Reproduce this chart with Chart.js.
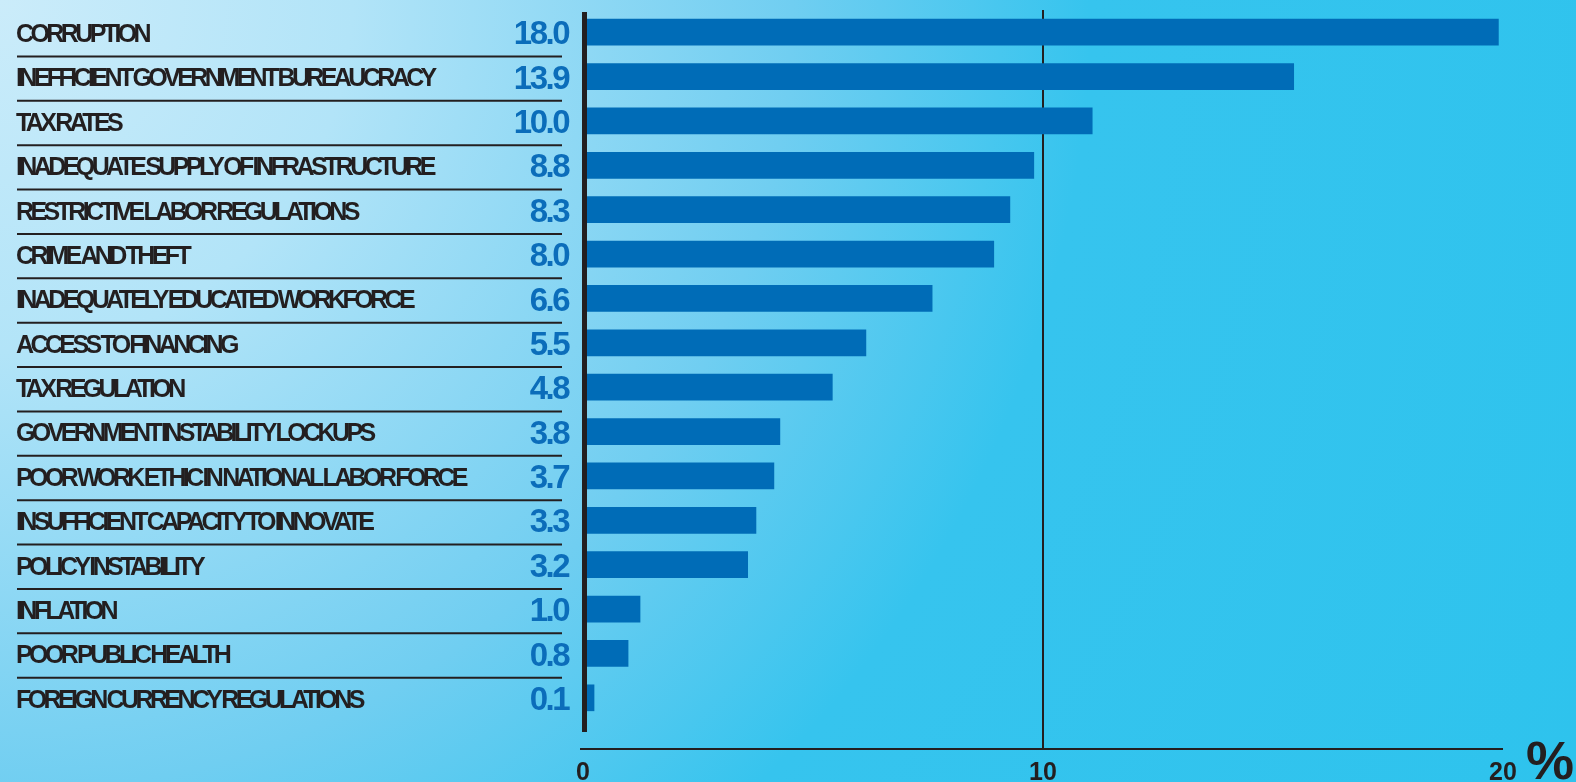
<!DOCTYPE html>
<html lang="en">
<head>
    <meta charset="UTF-8">
    <title>Most Problematic Factors</title>
    <style>
        body {
            margin: 0;
            padding: 0;
            width: 1576px;
            height: 782px;
            overflow: hidden;
            background: radial-gradient(circle farthest-corner at 0 0, #cbecfa 0%, #b2e4f8 20%, #70cef1 45%, #36c4ee 62%, #2ec3ed 100%);
        }
        .container {
            position: relative;
            width: 1576px;
            height: 782px;
        }
    </style>
    <script src="https://cdn.jsdelivr.net/npm/chart.js"></script>
</head>
<body>
    <div class="container">
        <canvas id="barGraph"></canvas>
    </div>

    <script>
        // Categories, the printed values and the bar lengths
        const categories = [
            'CORRUPTION',
            'INEFFICIENT GOVERNMENT BUREAUCRACY',
            'TAX RATES',
            'INADEQUATE SUPPLY OF INFRASTRUCTURE',
            'RESTRICTIVE LABOR REGULATIONS',
            'CRIME AND THEFT',
            'INADEQUATELY EDUCATED WORKFORCE',
            'ACCESS TO FINANCING',
            'TAX REGULATION',
            'GOVERNMENT INSTABILITY LOCKUPS',
            'POOR WORK ETHIC IN NATIONAL LABOR FORCE',
            'INSUFFICIENT CAPACITY TO INNOVATE',
            'POLICY INSTABILITY',
            'INFLATION',
            'POOR PUBLIC HEALTH',
            'FOREIGN CURRENCY REGULATIONS'
        ];
        const shownValues = ['18.0', '13.9', '10.0', '8.8', '8.3', '8.0', '6.6', '5.5', '4.8', '3.8', '3.7', '3.3', '3.2', '1.0', '0.8', '0.1'];
        const barLengths = [19.9, 15.45, 11.07, 9.8, 9.28, 8.93, 7.59, 6.15, 5.42, 4.28, 4.15, 3.76, 3.58, 1.24, 0.98, 0.24];
        const xTicks = [0, 10, 20];

        const ink = '#231f20';
        const blue = '#006cb7';
        const fontStack = 'Arial, "Liberation Sans", sans-serif';

        // Left-hand labels, separators, value column and the axis lines
        const decor = {
            id: 'decor',
            afterDatasetsDraw(chart) {
                const { ctx, scales: { x, y } } = chart;
                const x0 = x.getPixelForValue(0);
                const x20 = x.getPixelForValue(20);
                ctx.save();

                ctx.strokeStyle = ink;
                ctx.lineWidth = 2;
                for (let i = 0; i < categories.length - 1; i++) {
                    const yy = (y.getPixelForValue(i) + y.getPixelForValue(i + 1)) / 2 + 2;
                    ctx.beginPath();
                    ctx.moveTo(17, yy);
                    ctx.lineTo(562, yy);
                    ctx.stroke();
                }

                ctx.fillStyle = ink;
                ctx.font = 'bold 25px ' + fontStack;
                ctx.letterSpacing = '-3.6px';
                ctx.wordSpacing = '-1.5px';
                ctx.textAlign = 'left';
                ctx.textBaseline = 'middle';
                categories.forEach((c, i) => ctx.fillText(c, 16, y.getPixelForValue(i) + 3));
                ctx.wordSpacing = '0px';

                ctx.fillStyle = '#0b6dba';
                ctx.font = 'bold 33px ' + fontStack;
                ctx.letterSpacing = '-2.5px';
                ctx.textAlign = 'right';
                shownValues.forEach((v, i) => ctx.fillText(v, 568, y.getPixelForValue(i) + 3));

                ctx.letterSpacing = '0px';
                ctx.fillStyle = ink;
                ctx.fillRect(x0 - 1, 12, 5, 720);
                ctx.fillRect(x0 - 3, 748, x20 - x0 + 3, 2);

                ctx.font = 'bold 54px ' + fontStack;
                ctx.textAlign = 'center';
                ctx.textBaseline = 'alphabetic';
                ctx.fillText('%', 1550, 779);
                ctx.restore();
            }
        };

        const config = {
            type: 'bar',
            data: {
                labels: categories,
                datasets: [{
                    data: barLengths,
                    backgroundColor: blue,
                    borderWidth: 0,
                    barThickness: 26
                }]
            },
            options: {
                indexAxis: 'y',
                responsive: true,
                maintainAspectRatio: false,
                animation: false,
                layout: {
                    padding: { top: 10, left: 17, right: 73, bottom: 0 }
                },
                plugins: {
                    legend: { display: false },
                    tooltip: { enabled: false }
                },
                scales: {
                    x: {
                        min: 0,
                        max: 20,
                        afterBuildTicks: (s) => { s.ticks = xTicks.map(v => ({ value: v })); },
                        afterFit: (s) => { s.height = 62; },
                        grid: {
                            color: (c) => (c.tick && c.tick.value === 10) ? ink : 'rgba(0,0,0,0)',
                            lineWidth: 2,
                            tickLength: 30
                        },
                        border: { display: false },
                        ticks: {
                            color: ink,
                            padding: 8,
                            maxRotation: 0,
                            font: { family: fontStack, size: 25, weight: 'bold' }
                        }
                    },
                    y: {
                        afterFit: (s) => { s.width = 566; },
                        grid: { display: false },
                        border: { display: false },
                        ticks: { display: false }
                    }
                }
            },
            plugins: [decor]
        };

        const barGraph = new Chart(document.getElementById('barGraph'), config);
    </script>
</body>
</html>
